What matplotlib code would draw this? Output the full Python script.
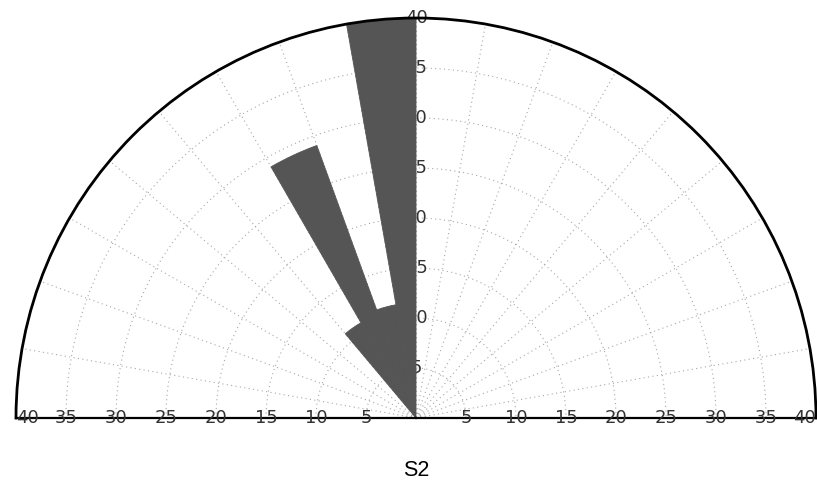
import numpy as np
import matplotlib
matplotlib.use("Agg")
import matplotlib.pyplot as plt

# Rose diagram data: 10-degree azimuth bins (start angle, degrees from north, clockwise)
bin_start_deg = [-40, -30, -20, -10]
counts = [11, 29, 11.5, 40]
bin_width_deg = 10
r_ticks = [5, 10, 15, 20, 25, 30, 35, 40]
r_max = 40
theta_grid_deg = list(range(-80, 90, 10))
title = "S2"

label_font = ["Liberation Sans Narrow", "DejaVu Sans"]

fig = plt.figure(figsize=(8.17, 4.92), dpi=100)
# square axes box; the half-disc is fitted to its width and centred vertically
ax = fig.add_axes([16 / 817, (492 - 618) / 492, 800 / 817, 800 / 492], projection="polar")
ax.set_theta_zero_location("N")
ax.set_theta_direction(-1)
ax.set_thetamin(-90)
ax.set_thetamax(90)
ax.set_ylim(0, r_max)

theta = np.deg2rad(np.array(bin_start_deg) + bin_width_deg / 2)
ax.bar(theta, counts, width=np.deg2rad(bin_width_deg), color="#555555",
       edgecolor="#555555", linewidth=0.6, zorder=2)

ax.set_rticks(r_ticks)
ax.set_yticklabels([])
ax.set_thetagrids(theta_grid_deg, labels=[""] * len(theta_grid_deg))
ax.set_axisbelow(True)
ax.grid(True, color="#a8a8a8", linestyle=(0, (1, 3)), linewidth=0.8)
ax.spines["polar"].set_linewidth(2.0)
ax.spines["start"].set_linewidth(1.6)
ax.spines["end"].set_linewidth(1.6)

for r in r_ticks:
    for ang in (-90, 90):
        if r == r_max:
            ha = "left" if ang < 0 else "right"
        else:
            ha = "center"
        ax.text(np.deg2rad(ang), r, str(r), ha=ha, va="center",
                fontsize=13, color="#333333", family=label_font, zorder=3)
    ax.text(0, r, str(r), ha="center", va="center", fontsize=13,
            color="#333333", family=label_font, zorder=1)

fig.text(416 / 817, 1 - 470 / 492, title, ha="center", va="center",
         fontsize=15.5, family=["Liberation Sans", "DejaVu Sans"])

fig.savefig("out.png", dpi=100)
